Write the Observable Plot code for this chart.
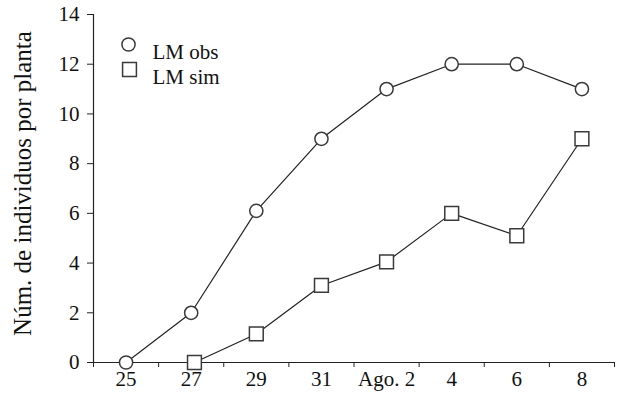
<!DOCTYPE html>
<html>
<head>
<meta charset="utf-8">
<script src="https://cdn.jsdelivr.net/npm/d3@7"></script>
<script src="https://cdn.jsdelivr.net/npm/@observablehq/plot@0.6"></script>
<style>
  html, body { margin: 0; padding: 0; background: white; }
</style>
</head>
<body>
<div id="chart"></div>
<script>
// Days counted from July (33 = Aug 2, 35 = Aug 4, ...)
const obsDays = [25, 27, 29, 31, 33, 35, 37, 39];
const obsValues = [0, 2, 6.1, 9, 11, 12, 12, 11];
const simDays = [27.1, 29, 31, 33, 35, 37, 39];
const simValues = [0, 1.15, 3.1, 4.05, 6, 5.1, 9];
const seriesNames = ["LM obs", "LM sim"];
const xLabelDays = [25, 27, 29, 31, 33, 35, 37, 39];
const xLabels = ["25", "27", "29", "31", "Ago. 2", "4", "6", "8"];
const xTickDays = [24, 26, 28, 30, 32, 34, 36, 38, 40];
const yTicks = [0, 2, 4, 6, 8, 10, 12, 14];
const yTitle = "Núm. de individuos por planta";
const xDomain = [24, 40];
const yDomain = [0, 14];

const obs = obsDays.map((d, i) => ({day: d, value: obsValues[i]}));
const sim = simDays.map((d, i) => ({day: d, value: simValues[i]}));

const lineColor = "#222";
const markColor = "#3a3a3a";

const chart = Plot.plot({
  width: 619,
  height: 394,
  marginLeft: 93,
  marginRight: 5,
  marginTop: 14,
  marginBottom: 32,
  style: {fontFamily: "'Liberation Serif', serif", fontSize: "21px", background: "white", color: "#111"},
  x: {domain: xDomain},
  y: {domain: yDomain},
  marks: [
    Plot.ruleX([xDomain[0]], {stroke: lineColor, strokeWidth: 1.2}),
    Plot.ruleY([yDomain[0]], {stroke: lineColor, strokeWidth: 1.2}),
    Plot.axisY({ticks: yTicks, tickSize: 6, tickPadding: 8, stroke: lineColor, label: null}),
    Plot.axisX({ticks: xTickDays, tickSize: 5, tickFormat: () => "", stroke: lineColor, label: null}),
    Plot.axisX({ticks: xLabelDays, tickSize: 0, tickPadding: 9,
      tickFormat: (d) => xLabels[xLabelDays.indexOf(d)], label: null}),
    Plot.text([yTitle], {frameAnchor: "left", dx: -71, dy: -5, rotate: -90, text: d => d,
      textAnchor: "middle", lineAnchor: "middle", fontSize: 25, fill: "#111"}),
    Plot.line(obs, {x: "day", y: "value", stroke: lineColor, strokeWidth: 1.2}),
    Plot.line(sim, {x: "day", y: "value", stroke: lineColor, strokeWidth: 1.2}),
    Plot.dot(obs, {x: "day", y: "value", symbol: "circle", r: 6.6, fill: "white", stroke: markColor, strokeWidth: 1.5}),
    Plot.dot(sim, {x: "day", y: "value", symbol: "square", r: 7.8, fill: "white", stroke: markColor, strokeWidth: 1.5}),
    // legend
    Plot.dot([seriesNames[0]], {frameAnchor: "top-left", dx: 35, dy: 30, symbol: "circle", r: 6.6, fill: "white", stroke: markColor, strokeWidth: 1.5}),
    Plot.dot([seriesNames[1]], {frameAnchor: "top-left", dx: 36, dy: 55, symbol: "square", r: 7.8, fill: "white", stroke: markColor, strokeWidth: 1.5}),
    Plot.text([seriesNames[0]], {frameAnchor: "top-left", dx: 59, dy: 30, text: d => d, textAnchor: "start", fill: "#111"}),
    Plot.text([seriesNames[1]], {frameAnchor: "top-left", dx: 59, dy: 55, text: d => d, textAnchor: "start", fill: "#111"})
  ]
});
document.getElementById("chart").appendChild(chart);
</script>
</body>
</html>
